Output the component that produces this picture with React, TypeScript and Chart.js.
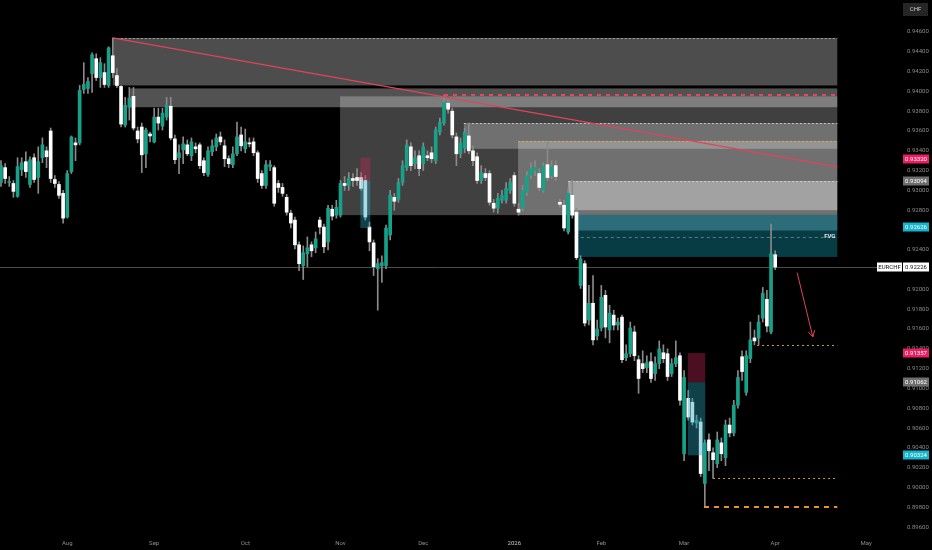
import React, { useRef, useEffect } from "react";
import { Chart, registerables } from "chart.js";

Chart.register(...registerables);

// time axis: trading-day index of the first bar of each month
const monthTicks = [16, 37, 59, 82, 102, 124, 145, 165, 187, 209];
const monthLabels = ["Aug", "Sep", "Oct", "Nov", "Dec", "2026", "Feb", "Mar", "Apr", "May"];

const priceTicks = [
  0.946, 0.944, 0.942, 0.94, 0.938, 0.936, 0.934, 0.932, 0.93, 0.928, 0.926, 0.924, 0.922,
  0.92, 0.918, 0.916, 0.914, 0.912, 0.91, 0.908, 0.906, 0.904, 0.902, 0.9, 0.898, 0.896,
];

// EURCHF daily candles, Jul 10 2025 -> Apr 1 2026
const opens = [
  0.9308, 0.9323, 0.9308, 0.9307, 0.9294, 0.9321, 0.9329, 0.9306, 0.9333, 0.9313,
  0.9333, 0.934, 0.936, 0.9311, 0.9306, 0.9297, 0.9273, 0.9319, 0.9348, 0.9348,
  0.9402, 0.9403, 0.9418, 0.9433, 0.9414, 0.9419, 0.9406, 0.9436, 0.9416, 0.9405,
  0.9366, 0.9384, 0.9395, 0.936, 0.9364, 0.9337, 0.9357, 0.9349, 0.9374, 0.9365,
  0.9374, 0.9385, 0.9352, 0.9333, 0.9341, 0.9346, 0.9335, 0.9344, 0.9346, 0.933,
  0.9316, 0.9339, 0.9344, 0.9354, 0.9345, 0.9332, 0.9326, 0.9337, 0.9356, 0.9342,
  0.9348, 0.9349, 0.9338, 0.9317, 0.9305, 0.9324, 0.9323, 0.9307, 0.9303, 0.9293,
  0.9277, 0.927, 0.9245, 0.9224, 0.9236, 0.9245, 0.9242, 0.927, 0.9263, 0.9248,
  0.9281, 0.9275, 0.9275, 0.9307, 0.9305, 0.9312, 0.9313, 0.9313, 0.931, 0.9263,
  0.9247, 0.9221, 0.9224, 0.9224, 0.9255, 0.9293, 0.9291, 0.9308, 0.9323, 0.9344,
  0.9327, 0.9335, 0.9327, 0.9335, 0.9338, 0.933, 0.9359, 0.9368, 0.9388, 0.938,
  0.9354, 0.9337, 0.9343, 0.9355, 0.934, 0.9334, 0.931, 0.9317, 0.9317, 0.9287,
  0.9282, 0.929, 0.929, 0.93, 0.9315, 0.9281, 0.9282, 0.9298, 0.9315, 0.932,
  0.9317, 0.93, 0.9326, 0.9315, 0.9325, 0.9288, 0.9285, 0.9258, 0.9295, 0.9278,
  0.9204, 0.9226, 0.9169, 0.9186, 0.9153, 0.9161, 0.9194, 0.9159, 0.9174, 0.9164,
  0.9172, 0.9131, 0.9135, 0.9157, 0.9129, 0.9125, 0.9121, 0.9127, 0.9115, 0.9125,
  0.9136, 0.9135, 0.9115, 0.9125, 0.9133, 0.9034, 0.909, 0.9086, 0.9065, 0.9066,
  0.9004, 0.9048, 0.9035, 0.9024, 0.9045, 0.903, 0.9063, 0.9055, 0.9083, 0.9132,
  0.9096, 0.913, 0.9151, 0.9151, 0.9171, 0.919, 0.9157, 0.9235,
];
const highs = [
  0.933, 0.9327, 0.9314, 0.931, 0.9333, 0.9333, 0.9339, 0.9334, 0.9337, 0.9344,
  0.9353, 0.9344, 0.9363, 0.9315, 0.9309, 0.93, 0.932, 0.9355, 0.9353, 0.9406,
  0.9429, 0.9414, 0.9439, 0.9438, 0.9434, 0.9428, 0.9445, 0.9454, 0.9423, 0.9406,
  0.9394, 0.9404, 0.9404, 0.9364, 0.9368, 0.9363, 0.9359, 0.9383, 0.9383, 0.9383,
  0.9394, 0.9394, 0.9356, 0.9346, 0.9354, 0.9351, 0.9353, 0.9348, 0.9348, 0.9333,
  0.9344, 0.9351, 0.9357, 0.9359, 0.9351, 0.9335, 0.9344, 0.9369, 0.9364, 0.9362,
  0.9353, 0.9353, 0.934, 0.932, 0.933, 0.933, 0.9325, 0.931, 0.9307, 0.9296,
  0.928, 0.9273, 0.9248, 0.9244, 0.9253, 0.9248, 0.9258, 0.9273, 0.9266, 0.9285,
  0.9285, 0.929, 0.931, 0.9314, 0.9318, 0.9317, 0.9322, 0.9318, 0.9315, 0.9268,
  0.925, 0.9231, 0.9234, 0.9265, 0.93, 0.9297, 0.9312, 0.933, 0.9351, 0.9348,
  0.934, 0.934, 0.9348, 0.934, 0.9344, 0.9364, 0.9373, 0.9396, 0.9392, 0.9383,
  0.9358, 0.9353, 0.9363, 0.9368, 0.9345, 0.9338, 0.9325, 0.9322, 0.932, 0.9291,
  0.9297, 0.93, 0.9308, 0.9312, 0.9318, 0.9287, 0.9305, 0.9319, 0.9328, 0.933,
  0.9322, 0.9328, 0.9349, 0.933, 0.933, 0.9291, 0.929, 0.9302, 0.931, 0.9282,
  0.9234, 0.9229, 0.9204, 0.9214, 0.9169, 0.9204, 0.9199, 0.9184, 0.9179, 0.9171,
  0.9174, 0.9144, 0.9167, 0.9163, 0.9133, 0.9138, 0.9133, 0.9136, 0.9132, 0.9148,
  0.9144, 0.914, 0.913, 0.9148, 0.9136, 0.9118, 0.9098, 0.909, 0.9073, 0.907,
  0.9048, 0.9054, 0.904, 0.9056, 0.905, 0.9068, 0.907, 0.9088, 0.9118, 0.9138,
  0.9138, 0.9167, 0.9159, 0.9174, 0.9202, 0.9199, 0.9266, 0.9239,
];
const lows = [
  0.9304, 0.9307, 0.9304, 0.9293, 0.9293, 0.9315, 0.9313, 0.9303, 0.9308, 0.9297,
  0.9328, 0.9323, 0.9308, 0.9303, 0.9292, 0.9267, 0.9272, 0.9317, 0.933, 0.9346,
  0.9398, 0.9398, 0.9399, 0.9411, 0.9404, 0.9404, 0.9404, 0.9414, 0.9404, 0.9364,
  0.9364, 0.9371, 0.9361, 0.9348, 0.9318, 0.9323, 0.9349, 0.9348, 0.9361, 0.9361,
  0.9371, 0.9351, 0.9327, 0.9317, 0.9327, 0.9335, 0.933, 0.9338, 0.9322, 0.9315,
  0.9314, 0.9335, 0.934, 0.9346, 0.9324, 0.9323, 0.9323, 0.9335, 0.934, 0.9338,
  0.9344, 0.9335, 0.9308, 0.9302, 0.9302, 0.932, 0.9284, 0.9298, 0.9294, 0.9275,
  0.9262, 0.9241, 0.9219, 0.921, 0.9223, 0.9233, 0.9237, 0.9256, 0.9237, 0.924,
  0.927, 0.9272, 0.9273, 0.93, 0.93, 0.9304, 0.9305, 0.93, 0.927, 0.9239,
  0.9214, 0.9179, 0.9207, 0.9221, 0.925, 0.928, 0.9288, 0.9305, 0.932, 0.932,
  0.9322, 0.9315, 0.932, 0.933, 0.9328, 0.9327, 0.9356, 0.9366, 0.9378, 0.9353,
  0.9325, 0.9333, 0.9338, 0.9337, 0.9325, 0.9307, 0.9307, 0.931, 0.9285, 0.9278,
  0.9277, 0.9287, 0.9287, 0.9297, 0.9284, 0.9275, 0.9279, 0.9295, 0.9312, 0.9315,
  0.93, 0.9298, 0.931, 0.9312, 0.931, 0.9283, 0.9259, 0.9256, 0.9272, 0.923,
  0.9201, 0.9163, 0.9164, 0.9144, 0.9149, 0.9158, 0.9151, 0.9146, 0.9159, 0.9159,
  0.9126, 0.9128, 0.9132, 0.9128, 0.9095, 0.9116, 0.9116, 0.9106, 0.9108, 0.912,
  0.9126, 0.9108, 0.9112, 0.9122, 0.9083, 0.9027, 0.9068, 0.9063, 0.906, 0.9011,
  0.898, 0.9017, 0.9009, 0.902, 0.9027, 0.9022, 0.9051, 0.9052, 0.908, 0.9108,
  0.9093, 0.9126, 0.9144, 0.9144, 0.9167, 0.9157, 0.9155, 0.922,
];
const closes = [
  0.9325, 0.9312, 0.9309, 0.9299, 0.9324, 0.9328, 0.9319, 0.9331, 0.9311, 0.9329,
  0.9346, 0.9334, 0.9312, 0.9307, 0.9295, 0.9272, 0.9317, 0.9354, 0.9346, 0.9401,
  0.9407, 0.941, 0.9437, 0.9414, 0.9429, 0.9407, 0.9444, 0.9419, 0.9406, 0.9367,
  0.9386, 0.9393, 0.9363, 0.9352, 0.9336, 0.9361, 0.9355, 0.9374, 0.9368, 0.9378,
  0.9386, 0.9353, 0.9331, 0.9338, 0.9347, 0.9337, 0.9349, 0.9342, 0.9325, 0.9318,
  0.934, 0.9345, 0.9353, 0.9349, 0.9332, 0.9327, 0.9337, 0.9354, 0.9345, 0.9349,
  0.9347, 0.9338, 0.9312, 0.9305, 0.9326, 0.9326, 0.9287, 0.9303, 0.9297, 0.9278,
  0.9267, 0.9245, 0.9226, 0.9237, 0.9242, 0.9239, 0.9251, 0.9263, 0.9243, 0.9282,
  0.9274, 0.9283, 0.9307, 0.9305, 0.9312, 0.931, 0.931, 0.9302, 0.9273, 0.9248,
  0.9223, 0.9226, 0.9227, 0.9262, 0.9295, 0.9289, 0.9308, 0.9325, 0.9346, 0.9325,
  0.9333, 0.9322, 0.9344, 0.9333, 0.9332, 0.9361, 0.9369, 0.9389, 0.9382, 0.9356,
  0.9337, 0.9348, 0.9359, 0.934, 0.933, 0.931, 0.9318, 0.9313, 0.9288, 0.9282,
  0.9292, 0.9295, 0.9302, 0.9308, 0.9287, 0.9278, 0.93, 0.9315, 0.9322, 0.9323,
  0.9303, 0.9325, 0.9313, 0.9324, 0.9314, 0.9286, 0.9262, 0.9297, 0.9275, 0.9232,
  0.9231, 0.9166, 0.9186, 0.9149, 0.916, 0.9192, 0.9162, 0.9176, 0.9164, 0.9167,
  0.9129, 0.9135, 0.9161, 0.9133, 0.911, 0.912, 0.9126, 0.911, 0.9125, 0.914,
  0.913, 0.9112, 0.9125, 0.9131, 0.9088, 0.9111, 0.9071, 0.9066, 0.9068, 0.9014,
  0.9045, 0.9037, 0.9028, 0.9048, 0.9034, 0.9063, 0.9055, 0.9083, 0.9111, 0.9117,
  0.9133, 0.9149, 0.9148, 0.9167, 0.9196, 0.9163, 0.9236, 0.92226,
];

// supply zones (bar index where they start, price top / bottom), all run to zoneEnd
const zoneEnd = 202;
const zoneStart = [27, 31.2, 81.9, 111.8, 124.9, 137];
const zoneTop = [0.9454, 0.9403, 0.9395, 0.9368, 0.935, 0.93094];
const zoneBottom = [0.9406, 0.9384, 0.9275, 0.9342, 0.9275, 0.928];
const zoneAlpha = [0.3, 0.32, 0.25, 0.25, 0.25, 0.35];
const zoneEdge = ["#a0a0a0", "", "", "#c4c4c4", "#d9a640", "#d0d0d0"];

// fair value gap
const fvgStart = 138.6;
const fvgTop = 0.92752;
const fvgSplit = 0.92595;
const fvgMid = 0.9253;
const fvgBottom = 0.92328;

// short position tools: stop / entry / target
const posStart = [86.8, 165.9];
const posEnd = [89.2, 170.1];
const posStop = [0.9333, 0.91357];
const posEntry = [0.931, 0.91062];
const posTarget = [0.9262, 0.90324];

// trend line and levels
const trendFrom = [27, 0.9454];
const trendTo = [202, 0.93237];
const levelStart = [107, 182.6, 172, 169.8];
const levelPrice = [0.9396, 0.91438, 0.90095, 0.898];
const arrowFrom = [192.3, 0.9217];
const arrowTo = [196.1, 0.9152];

// right-scale price tags
const tagPrices = [0.9332, 0.93094, 0.92626, 0.91357, 0.91062, 0.90324];
const tagColors = ["#e91e63", "#6e6e6e", "#15b4cc", "#e91e63", "#6e6e6e", "#15b4cc"];

const TEAL = "#17a189";
const WHITE = "#ffffff";
const FONT = "Roboto, 'Liberation Sans', sans-serif";

const drawings = {
  id: "drawings",
  beforeDatasetsDraw(chart: any) {
    const { ctx, chartArea: a, scales } = chart;
    const x = scales.x;
    const y = scales.y;
    ctx.save();
    ctx.beginPath();
    ctx.rect(a.left, a.top, a.right - a.left, a.bottom - a.top);
    ctx.clip();

    const xe = x.getPixelForValue(zoneEnd);
    zoneStart.forEach((s: number, i: number) => {
      const x0 = x.getPixelForValue(s);
      const y0 = y.getPixelForValue(zoneTop[i]);
      const y1 = y.getPixelForValue(zoneBottom[i]);
      ctx.fillStyle = `rgba(255,255,255,${zoneAlpha[i]})`;
      ctx.fillRect(x0, y0, xe - x0, y1 - y0);
      if (zoneEdge[i]) {
        ctx.beginPath();
        ctx.setLineDash([2, 2]);
        ctx.strokeStyle = zoneEdge[i];
        ctx.lineWidth = 1;
        ctx.moveTo(x0, Math.round(y0) + 0.5);
        ctx.lineTo(xe, Math.round(y0) + 0.5);
        ctx.stroke();
      }
    });

    // FVG
    const fx = x.getPixelForValue(fvgStart);
    const ft = y.getPixelForValue(fvgTop);
    const fs = y.getPixelForValue(fvgSplit);
    const fb = y.getPixelForValue(fvgBottom);
    ctx.fillStyle = "#083c45";
    ctx.fillRect(fx, ft, xe - fx, fb - ft);
    ctx.fillStyle = "#2d6d79";
    ctx.fillRect(fx, ft, xe - fx, fs - ft);
    const fm = Math.round(y.getPixelForValue(fvgMid)) + 0.5;
    ctx.beginPath();
    ctx.setLineDash([3, 3]);
    ctx.strokeStyle = "rgba(160,190,195,0.5)";
    ctx.moveTo(fx, fm);
    ctx.lineTo(xe, fm);
    ctx.stroke();

    ctx.restore();

    // last price line
    const py = Math.round(y.getPixelForValue(closes[closes.length - 1])) + 0.5;
    ctx.save();
    ctx.strokeStyle = "#4c4c4c";
    ctx.lineWidth = 1;
    ctx.beginPath();
    ctx.moveTo(a.left, py);
    ctx.lineTo(877, py);
    ctx.stroke();
    ctx.restore();
  },
  afterDatasetsDraw(chart: any) {
    const { ctx, chartArea: a, scales } = chart;
    const x = scales.x;
    const y = scales.y;
    ctx.save();
    ctx.beginPath();
    ctx.rect(a.left, a.top, a.right - a.left, a.bottom - a.top);
    ctx.clip();

    // position tools
    posStart.forEach((s: number, i: number) => {
      const x0 = x.getPixelForValue(s);
      const x1 = x.getPixelForValue(posEnd[i]);
      const ys = y.getPixelForValue(posStop[i]);
      const ye = y.getPixelForValue(posEntry[i]);
      const yt = y.getPixelForValue(posTarget[i]);
      ctx.fillStyle = "rgba(200,40,90,0.38)";
      ctx.fillRect(x0, ys, x1 - x0, ye - ys);
      ctx.fillStyle = "rgba(40,160,185,0.4)";
      ctx.fillRect(x0, ye, x1 - x0, yt - ye);
    });

    // horizontal levels
    const levelColor = ["#e8465e", "#c9a227", "#c9a227", "#e8912d"];
    const levelDash = [[4, 5], [2, 3], [2, 3], [5, 5]];
    const levelWidth = [2, 1, 1, 2];
    const xe = x.getPixelForValue(zoneEnd);
    levelStart.forEach((s: number, i: number) => {
      const yy = Math.round(y.getPixelForValue(levelPrice[i])) + (levelWidth[i] === 2 ? 0 : 0.5);
      ctx.beginPath();
      ctx.setLineDash(levelDash[i]);
      ctx.strokeStyle = levelColor[i];
      ctx.lineWidth = levelWidth[i];
      ctx.moveTo(x.getPixelForValue(s), yy);
      ctx.lineTo(xe, yy);
      ctx.stroke();
    });
    ctx.setLineDash([]);

    // trend line
    ctx.strokeStyle = "#e0445c";
    ctx.lineWidth = 1.2;
    ctx.beginPath();
    ctx.moveTo(x.getPixelForValue(trendFrom[0]), y.getPixelForValue(trendFrom[1]));
    ctx.lineTo(x.getPixelForValue(trendTo[0]), y.getPixelForValue(trendTo[1]));
    ctx.stroke();

    // arrow
    const ax0 = x.getPixelForValue(arrowFrom[0]);
    const ay0 = y.getPixelForValue(arrowFrom[1]);
    const ax1 = x.getPixelForValue(arrowTo[0]);
    const ay1 = y.getPixelForValue(arrowTo[1]);
    const ang = Math.atan2(ay1 - ay0, ax1 - ax0);
    ctx.lineWidth = 1;
    ctx.beginPath();
    ctx.moveTo(ax0, ay0);
    ctx.lineTo(ax1, ay1);
    ctx.moveTo(ax1 - 7 * Math.cos(ang - 0.5), ay1 - 7 * Math.sin(ang - 0.5));
    ctx.lineTo(ax1, ay1);
    ctx.lineTo(ax1 - 7 * Math.cos(ang + 0.5), ay1 - 7 * Math.sin(ang + 0.5));
    ctx.stroke();

    // FVG label
    ctx.fillStyle = "#e6e6e6";
    ctx.font = `bold 6px ${FONT}`;
    ctx.textAlign = "center";
    ctx.textBaseline = "middle";
    ctx.fillText("FVG", x.getPixelForValue(200.2), y.getPixelForValue(fvgMid));
    ctx.restore();
  },
  afterDraw(chart: any) {
    const { ctx, scales } = chart;
    const y = scales.y;
    ctx.save();
    ctx.font = `6px ${FONT}`;
    ctx.textBaseline = "middle";
    ctx.textAlign = "left";
    ctx.fillStyle = "#8c8c8c";
    priceTicks.forEach((p: number) => {
      ctx.fillText(p.toFixed(5), 907, y.getPixelForValue(p));
    });

    const tag = (x0: number, w: number, cy: number, bg: string, fg: string, text: string) => {
      ctx.fillStyle = bg;
      ctx.fillRect(x0, Math.round(cy) - 4.5, w, 9);
      ctx.fillStyle = fg;
      ctx.textAlign = "center";
      ctx.fillText(text, x0 + w / 2, Math.round(cy));
    };
    tagPrices.forEach((p: number, i: number) => {
      tag(903, 26, y.getPixelForValue(p), tagColors[i], "#ffffff", p.toFixed(5));
    });
    const last = closes[closes.length - 1];
    const ly = y.getPixelForValue(last);
    tag(877, 25, ly, "#ffffff", "#111111", "EURCHF");
    tag(903, 26, ly, "#ffffff", "#111111", last.toFixed(5));

    ctx.fillStyle = "#262626";
    ctx.fillRect(903, 3, 25, 13);
    ctx.fillStyle = "#d0d0d0";
    ctx.textAlign = "center";
    ctx.fillText("CHF", 915.5, 9.5);
    ctx.restore();
  },
};

const App = () => {
  const chartRef = useRef<any>(null);
  const chartInstanceRef = useRef<any>(null);

  useEffect(() => {
    document.body.style.margin = "0";
    document.body.style.background = "#000";
    const ctx = chartRef.current.getContext("2d");

    if (chartInstanceRef.current) {
      chartInstanceRef.current.destroy();
    }

    const wicks = opens.map((_, i) => ({ x: i, y: [lows[i], highs[i]] }));
    const bodies = opens.map((o, i) => ({ x: i, y: [o, closes[i]] }));
    const bodyColors = opens.map((o, i) => (closes[i] >= o ? TEAL : WHITE));

    chartInstanceRef.current = new Chart(ctx, {
      type: "bar",
      data: {
        datasets: [
          {
            data: bodies as any,
            backgroundColor: bodyColors,
            barThickness: 3,
            minBarLength: 1,
            grouped: false,
            order: 1,
          },
          {
            data: wicks as any,
            backgroundColor: "#8a8a8a",
            barThickness: 1,
            grouped: false,
            order: 2,
          },
        ],
      },
      options: {
        animation: false,
        responsive: true,
        maintainAspectRatio: false,
        events: [],
        layout: { padding: 0 },
        plugins: { legend: { display: false }, tooltip: { enabled: false } },
        scales: {
          x: {
            type: "linear",
            min: -0.2415,
            max: 210.386,
            offset: false,
            grid: { display: false, drawTicks: false },
            border: { display: false },
            afterBuildTicks: (s: any) => {
              s.ticks = monthTicks.map((v) => ({ value: v }));
            },
            afterFit: (s: any) => {
              s.height = 15;
            },
            ticks: {
              autoSkip: false,
              maxRotation: 0,
              padding: 5,
              font: { family: FONT, size: 6 },
              color: (c: any) => (c.tick && c.tick.value === 124 ? "#c8c8c8" : "#8c8c8c"),
              callback: (v: any) => {
                const k = monthTicks.indexOf(v);
                return k >= 0 ? monthLabels[k] : "";
              },
            },
          },
          y: {
            type: "linear",
            position: "right",
            min: 0.895192,
            max: 0.949232,
            grid: { display: false, drawTicks: false },
            border: { display: false },
            ticks: { display: false },
            afterFit: (s: any) => {
              s.width = 60;
            },
          },
        },
      },
      plugins: [drawings],
    } as any);

    return () => {
      if (chartInstanceRef.current) {
        chartInstanceRef.current.destroy();
      }
    };
  }, []);

  return (
    <div style={{ width: 932, height: 550, background: "#000" }}>
      <canvas ref={chartRef} />
    </div>
  );
};

export default App;
